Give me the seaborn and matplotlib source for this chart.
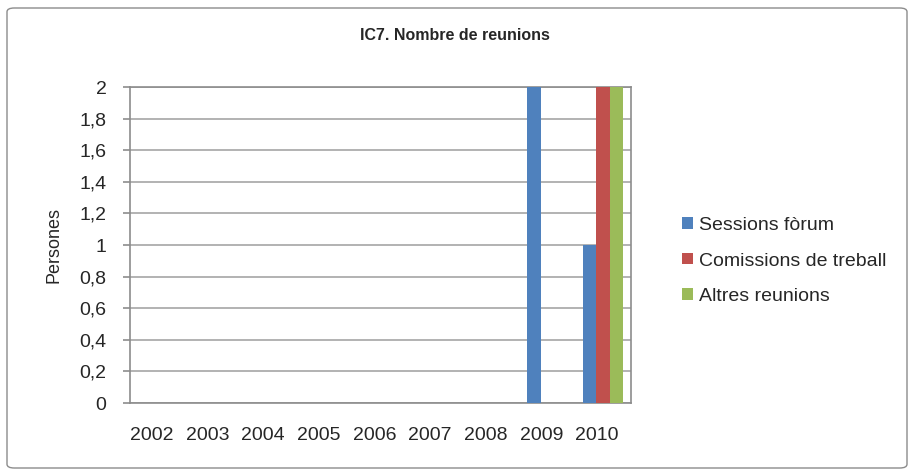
import matplotlib
matplotlib.use("Agg")
import matplotlib.pyplot as plt
import matplotlib.transforms as mtransforms
import seaborn as sns
import pandas as pd
from matplotlib.patches import FancyBboxPatch
from matplotlib.ticker import FuncFormatter

years = ["2002", "2003", "2004", "2005", "2006", "2007", "2008", "2009", "2010"]
sessions_forum = [0, 0, 0, 0, 0, 0, 0, 2, 1]
comissions = [0, 0, 0, 0, 0, 0, 0, 0, 2]
altres = [0, 0, 0, 0, 0, 0, 0, 0, 2]
series_names = ["Sessions fòrum", "Comissions de treball", "Altres reunions"]
colors = ["#4F81BD", "#C0504D", "#9BBB59"]
yticks = [0, 0.2, 0.4, 0.6, 0.8, 1, 1.2, 1.4, 1.6, 1.8, 2]

rows = []
for name, vals in zip(series_names, [sessions_forum, comissions, altres]):
    for y, v in zip(years, vals):
        rows.append({"Any": y, "Sèrie": name, "Valor": v})
df = pd.DataFrame(rows)

sns.set_style("white")
plt.rcParams['font.family'] = ['Liberation Sans', 'DejaVu Sans']

W, H = 915, 476
fig = plt.figure(figsize=(W / 100, H / 100), dpi=100)
frame = FancyBboxPatch((7 / W, 8 / H), 900 / W, 460 / H, boxstyle="round,pad=0,rounding_size=0.008",
                       transform=fig.transFigure, facecolor="white", edgecolor="#8c8c8c",
                       linewidth=1.0, zorder=-10)
fig.patches.append(frame)

ax_left, ax_right, ax_top, ax_bottom = 130, 631, 87, 403
ax = fig.add_axes([ax_left / W, 1 - ax_bottom / H, (ax_right - ax_left) / W, (ax_bottom - ax_top) / H])
sns.barplot(data=df, x="Any", y="Valor", hue="Sèrie", palette=colors, width=0.72,
            ax=ax, saturation=1, edgecolor="none", zorder=3)

ax.set_xlim(-0.5, 8.5)
ax.set_ylim(0, 2)
ax.set_yticks(yticks)
ax.yaxis.set_major_formatter(FuncFormatter(
    lambda v, p: (f"{v:.1f}".rstrip("0").rstrip(".")).replace(".", ",")))
ax.grid(axis="y", color="#a6a6a6", linewidth=1.2, zorder=0)
ax.set_axisbelow(True)
ax.set_xlabel("")
ax.set_ylabel("Persones", fontsize=13, labelpad=12)
ax.tick_params(axis="y", labelsize=14, length=5, width=1.2, color="#8c8c8c",
               direction="out", pad=12, left=True)
ax.tick_params(axis="x", labelsize=14, length=0, pad=17)
# front labels sit slightly left of the back-wall bars (3D look)
offset = mtransforms.ScaledTranslation(-6 / 100, 0, fig.dpi_scale_trans)
for lbl in ax.get_xticklabels():
    lbl.set_transform(lbl.get_transform() + offset)
for s in ["left", "bottom", "top", "right"]:
    ax.spines[s].set_color("#8c8c8c")
    ax.spines[s].set_linewidth(1.2)

ax.legend(loc="center left", bbox_to_anchor=((682 - ax_left) / (ax_right - ax_left),
                                              (ax_bottom - 261) / (ax_bottom - ax_top)),
          frameon=False, fontsize=14, borderpad=0, borderaxespad=0,
          handlelength=0.55, handleheight=0.55, handletextpad=0.3, labelspacing=0.95)

fig.text(0.497, 0.926, "IC7. Nombre de reunions", ha="center", va="center",
         fontsize=11.5, fontweight="bold")

fig.savefig("out.png", dpi=100)
